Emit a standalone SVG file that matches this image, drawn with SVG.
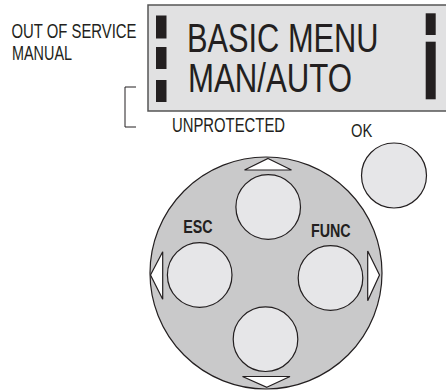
<svg xmlns="http://www.w3.org/2000/svg" width="446" height="390" viewBox="0 0 446 390">
<style>
.lbl{font-family:"Liberation Sans","Arial",sans-serif;fill:#231f20}
.big{font-size:41px}
.sm{font-size:19.5px}
.bold{font-weight:bold;font-size:17.5px}
.bar{fill:#231f20}
.btn{fill:#e6e6e8;stroke:#231f20;stroke-width:1.2}
.tri{fill:#ffffff;stroke:#231f20;stroke-width:1.2;stroke-linejoin:miter}
</style>
<rect width="446" height="390" fill="#ffffff"/>
<g id="side-labels">
<text class="lbl sm" x="11.5" y="37.5" textLength="125" lengthAdjust="spacingAndGlyphs">OUT OF SERVICE</text>
<text class="lbl sm" x="12" y="59.5" textLength="60" lengthAdjust="spacingAndGlyphs">MANUAL</text>
</g>
<g id="display">
<rect x="148" y="5" width="302" height="106" fill="#e1e1e2" stroke="#555" stroke-width="1.5"/>
<rect class="bar" x="156" y="15.5" width="10.5" height="23"/>
<rect class="bar" x="156" y="47" width="10.5" height="22"/>
<rect class="bar" x="156" y="80" width="10.5" height="22"/>
<rect class="bar" x="425.7" y="13.3" width="10" height="21.7"/>
<rect class="bar" x="425.7" y="41.7" width="10" height="57.6"/>
<text class="lbl big" x="187" y="51.7" textLength="191.5" lengthAdjust="spacingAndGlyphs">BASIC MENU</text>
<text class="lbl big" x="188" y="92.3" textLength="164" lengthAdjust="spacingAndGlyphs">MAN/AUTO</text>
</g>
<g id="connectors">
<polyline points="136,87 125,87 125,127 136,127" fill="none" stroke="#231f20" stroke-width="1"/>
</g>
<g id="unprotected">
<text class="lbl sm" x="172" y="132.3" textLength="113" lengthAdjust="spacingAndGlyphs">UNPROTECTED</text>
</g>
<g id="ok">
<text class="lbl" x="351" y="137.3" font-size="18" textLength="21.3" lengthAdjust="spacingAndGlyphs">OK</text>
<circle class="btn" cx="394" cy="175.5" r="32.5"/>
</g>
<g id="keypad">
<circle cx="266" cy="273" r="116" fill="#c9c9ca" stroke="#231f20" stroke-width="1.2"/>
<polygon class="tri" points="268,158.5 291.5,170 244.5,170"/>
<polygon class="tri" points="150.5,275 162.7,251.7 162.7,299.3"/>
<polygon class="tri" points="266.8,387.3 290,376.5 242.5,376.5"/>
<polygon class="tri" points="379.5,275 367.7,251 367.7,300.7"/>
</g>
<g id="btn-up"><circle class="btn" cx="268.2" cy="207" r="32.3"/></g>
<g id="btn-esc">
<circle class="btn" cx="199.7" cy="275" r="32.3"/>
<text class="lbl bold" x="183.3" y="233.3" textLength="29.4" lengthAdjust="spacingAndGlyphs">ESC</text>
</g>
<g id="btn-func">
<circle class="btn" cx="330.5" cy="278" r="32.3"/>
<text class="lbl bold" x="311" y="237.3" font-size="18.5" textLength="39.7" lengthAdjust="spacingAndGlyphs">FUNC</text>
</g>
<g id="btn-down"><circle class="btn" cx="265.5" cy="339.2" r="32.3"/></g>
</svg>
